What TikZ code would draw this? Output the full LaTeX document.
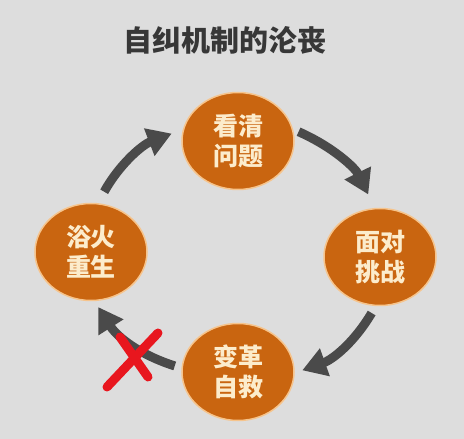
\documentclass[tikz,border=0pt]{standalone}
\usepackage{fontspec}
\usepackage{tikz}
\usetikzlibrary{shapes,arrows.meta,positioning,calc}
\newfontfamily\cjk{Noto Sans CJK SC}
\definecolor{bgGray}{RGB}{221,221,221}
\definecolor{stageOrange}{RGB}{201,101,16}
\definecolor{rimOrange}{RGB}{246,196,140}
\definecolor{creamText}{RGB}{252,236,204}
\definecolor{arrowGray}{RGB}{74,74,74}
\definecolor{titleGray}{RGB}{55,55,55}
\definecolor{crossRed}{RGB}{232,22,30}

\begin{document}
\begin{tikzpicture}[x=1pt,y=1pt]
    % Stili
    \tikzset{
        stage/.style={ellipse, draw=rimOrange, line width=1.5pt, fill=stageOrange, minimum width=112pt, minimum height=97pt, inner sep=0pt, align=center, text=creamText, font=\cjk\bfseries\fontsize{25}{30}\selectfont},
        cycarrow/.style={-{Triangle[width=28pt,length=24pt]}, line width=9pt, draw=arrowGray},
        headline/.style={font=\cjk\bfseries\fontsize{29}{32}\selectfont, text=titleGray},
        veto/.style={line width=9pt, line cap=round, draw=crossRed}
    }

    % Sfondo
    \fill[bgGray] (0,0) rectangle (464,439);

    % Titolo
    \node[headline] (title) at (225,399) {自纠机制的沦丧};

    % Fasi del ciclo
    \node[stage] (problem) at (238,298) {看清\\问题};
    \node[stage] (challenge) at (380,182) {面对\\挑战};
    \node[stage] (reform) at (238,67) {变革\\自救};
    \node[stage] (rebirth) at (91,187) {浴火\\重生};

    % Frecce del ciclo
    \draw[cycarrow, shorten <=6pt, shorten >=15pt] (problem.12) to[bend left=20] (challenge.96);
    \draw[cycarrow, shorten <=8pt, shorten >=8pt] (challenge.-95) to[bend left=20] (reform.-1);
    \draw[cycarrow, shorten <=7pt, shorten >=7pt] (reform.176) to[bend left=20] (rebirth.-86);
    \draw[cycarrow, shorten <=13pt, shorten >=12pt] (rebirth.82) to[bend left=20] (problem.168);

    % Croce rossa
    \coordinate (cross) at (133,80);
    \draw[veto] ($(cross)+(-26,-28)$) -- ($(cross)+(25,26)$);
    \draw[veto] ($(cross)+(-13,22)$) -- ($(cross)+(15,-18)$);

\end{tikzpicture}
\end{document}
